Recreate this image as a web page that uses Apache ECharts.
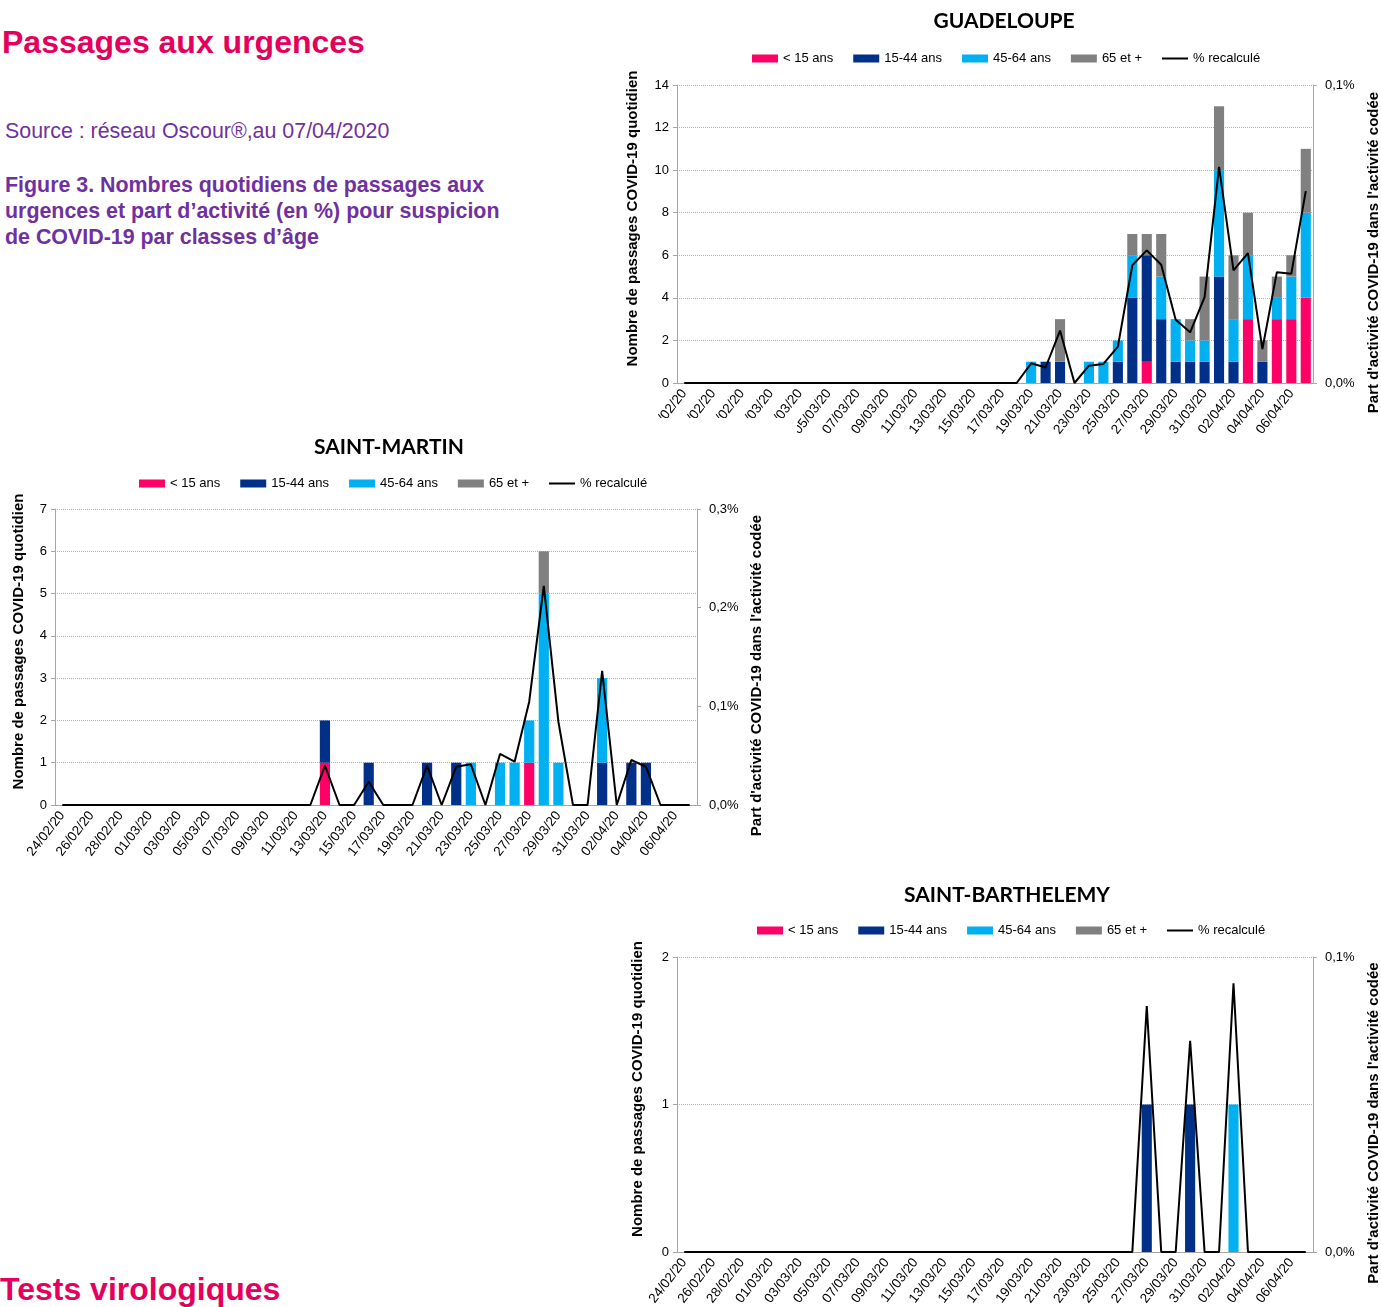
<!DOCTYPE html>
<html lang="fr">
<head>
<meta charset="utf-8">
<title>Passages aux urgences</title>
<script src="https://cdn.jsdelivr.net/npm/echarts@6.0.0/dist/echarts.min.js"></script>
<style>
  body { margin: 0; width: 1381px; height: 1307px; position: relative; overflow: hidden; background: #fff; font-family: "Liberation Sans", Arial, sans-serif; }
  .txt { position: absolute; white-space: nowrap; }
  .rose { color: #e4005c; font-weight: bold; font-size: 32px; }
  .violet { color: #7030a0; font-size: 21.4px; }
  .chart { position: absolute; }
</style>
</head>
<body>
<div class="txt rose" style="left:2px; top:24px;">Passages aux urgences</div>
<div class="txt violet" style="left:5px; top:119px;">Source : réseau Oscour®,au 07/04/2020</div>
<div class="txt violet" style="left:5px; top:172px; font-weight:bold; line-height:26px;">Figure 3. Nombres quotidiens de passages aux<br>urgences et part d’activité (en %) pour suspicion<br>de COVID-19 par classes d’âge</div>
<div class="txt rose" style="left:0px; top:1271px;">Tests virologiques</div>

<div id="gp" class="chart" style="left:600px; top:0px; width:781px; height:440px;"></div>
<div id="sm" class="chart" style="left:0px; top:418px; width:797px; height:452px; background:#fff; z-index:2;"></div>
<div id="sb" class="chart" style="left:600px; top:870px; width:781px; height:437px;"></div>

<script>
// dates du 24/02/20 au 07/04/20
const dates = [
  '24/02/20','25/02/20','26/02/20','27/02/20','28/02/20','29/02/20',
  '01/03/20','02/03/20','03/03/20','04/03/20','05/03/20','06/03/20','07/03/20','08/03/20','09/03/20','10/03/20',
  '11/03/20','12/03/20','13/03/20','14/03/20','15/03/20','16/03/20','17/03/20','18/03/20','19/03/20','20/03/20',
  '21/03/20','22/03/20','23/03/20','24/03/20','25/03/20','26/03/20','27/03/20','28/03/20','29/03/20','30/03/20',
  '31/03/20','01/04/20','02/04/20','03/04/20','04/04/20','05/04/20','06/04/20','07/04/20'
];
const classes = ['< 15 ans', '15-44 ans', '45-64 ans', '65 et +'];
const nomLigne = '% recalculé';

// Guadeloupe
const gpMoins15 = [0,0,0,0,0,0,0,0,0,0, 0,0,0,0,0,0,0,0,0,0, 0,0,0,0,0,0,0,0,0,0, 0,0,1,0,0,0,0,0,0,3, 0,3,3,4];
const gp15a44   = [0,0,0,0,0,0,0,0,0,0, 0,0,0,0,0,0,0,0,0,0, 0,0,0,0,0,1,1,0,0,0, 1,4,5,3,1,1,1,5,1,0, 1,0,0,0];
const gp45a64   = [0,0,0,0,0,0,0,0,0,0, 0,0,0,0,0,0,0,0,0,0, 0,0,0,0,1,0,0,0,1,1, 1,2,0,2,2,1,1,5,2,3, 0,1,2,4];
const gp65plus  = [0,0,0,0,0,0,0,0,0,0, 0,0,0,0,0,0,0,0,0,0, 0,0,0,0,0,0,2,0,0,0, 0,1,1,2,0,1,3,3,3,2, 1,1,1,3];
const gpPart    = [0,0,0,0,0,0,0,0,0,0, 0,0,0,0,0,0,0,0,0,0, 0,0,0,0,0.0066,0.0052,0.0176,0,0.0058,0.0064,
                   0.0122,0.0395,0.0445,0.0397,0.0212,0.017,0.0288,0.0725,0.0378,0.0436, 0.0114,0.0372,0.0367,0.0644];

// Saint-Martin
const smMoins15 = [0,0,0,0,0,0,0,0,0,0, 0,0,0,0,0,0,0,0,1,0, 0,0,0,0,0,0,0,0,0,0, 0,0,1,0,0,0,0,0,0,0, 0,0,0,0];
const sm15a44   = [0,0,0,0,0,0,0,0,0,0, 0,0,0,0,0,0,0,0,1,0, 0,1,0,0,0,1,0,1,0,0, 0,0,0,0,0,0,0,1,0,1, 1,0,0,0];
const sm45a64   = [0,0,0,0,0,0,0,0,0,0, 0,0,0,0,0,0,0,0,0,0, 0,0,0,0,0,0,0,0,1,0, 1,1,1,5,1,0,0,2,0,0, 0,0,0,0];
const sm65plus  = [0,0,0,0,0,0,0,0,0,0, 0,0,0,0,0,0,0,0,0,0, 0,0,0,0,0,0,0,0,0,0, 0,0,0,1,0,0,0,0,0,0, 0,0,0,0];
const smPart    = [0,0,0,0,0,0,0,0,0,0, 0,0,0,0,0,0,0,0,0.04,0, 0,0.0236,0,0,0,0.04,0,0.0388,0.0412,0,
                   0.0517,0.0439,0.1047,0.222,0.0844,0,0,0.136,0,0.0456, 0.0388,0,0,0];

// Saint-Barthélemy
const sbMoins15 = [0,0,0,0,0,0,0,0,0,0, 0,0,0,0,0,0,0,0,0,0, 0,0,0,0,0,0,0,0,0,0, 0,0,0,0,0,0,0,0,0,0, 0,0,0,0];
const sb15a44   = [0,0,0,0,0,0,0,0,0,0, 0,0,0,0,0,0,0,0,0,0, 0,0,0,0,0,0,0,0,0,0, 0,0,1,0,0,1,0,0,0,0, 0,0,0,0];
const sb45a64   = [0,0,0,0,0,0,0,0,0,0, 0,0,0,0,0,0,0,0,0,0, 0,0,0,0,0,0,0,0,0,0, 0,0,0,0,0,0,0,0,1,0, 0,0,0,0];
const sb65plus  = [0,0,0,0,0,0,0,0,0,0, 0,0,0,0,0,0,0,0,0,0, 0,0,0,0,0,0,0,0,0,0, 0,0,0,0,0,0,0,0,0,0, 0,0,0,0];
const sbPart    = [0,0,0,0,0,0,0,0,0,0, 0,0,0,0,0,0,0,0,0,0, 0,0,0,0,0,0,0,0,0,0, 0,0,0.0834,0,0,0.0716,0,0,0.0911,0, 0,0,0,0];

const couleurs = ['#ff0066', '#003087', '#00b0f0', '#808080'];
const police = '"Liberation Sans", Arial, sans-serif';
const gris = '#a6a6a6';
// icône de légende : trait simple, sans point
const iconeTrait = 'path://M0,0L0.01,0L0.01,0.01ZM0,3L26,3L26,5L0,5ZM25.99,8L26,8L26,7.99Z';

function dessiner(id, c) {
  const chart = echarts.init(document.getElementById(id));
  const barres = c.series.map((d, i) => ({
    name: classes[i],
    type: 'bar',
    stack: 'age',
    data: d,
    barCategoryGap: '30%',
    itemStyle: { color: couleurs[i] }
  }));
  const nomStyle = { fontFamily: police, fontWeight: 'bold', fontSize: 15, color: '#000' };
  chart.setOption({
    animation: false,
    title: {
      text: c.titre, left: c.titreX, top: c.titreY, textAlign: 'center',
      textStyle: { fontFamily: 'Lato', fontWeight: 'bold', fontSize: 21, color: '#000' }
    },
    legend: {
      left: c.legX, top: c.legY, itemWidth: 26, itemHeight: 8, itemGap: 20,
      textStyle: { fontFamily: police, fontSize: 13, color: '#000' },
      data: classes.map(n => ({ name: n, icon: 'rect' })).concat([{ name: nomLigne, icon: iconeTrait }])
    },
    grid: { left: c.grille[0], top: c.grille[1], width: c.grille[2], height: c.grille[3], outerBoundsMode: 'none' },
    xAxis: {
      type: 'category',
      data: dates,
      axisLine: { lineStyle: { color: gris } },
      axisTick: { interval: 0, length: 4, lineStyle: { color: gris } },
      axisLabel: { interval: 1, rotate: 52, fontFamily: police, fontSize: 13.5, color: '#000', margin: 8 }
    },
    yAxis: [
      {
        type: 'value', min: 0, max: c.max, interval: c.pas,
        name: 'Nombre de passages COVID-19 quotidien',
        nameLocation: 'middle', nameRotate: 90, nameGap: c.nomGauche,
        nameTextStyle: Object.assign({ padding: [0, 0, 0, 31] }, nomStyle),
        axisLine: { show: true, lineStyle: { color: gris } },
        axisTick: { show: true, length: 4, lineStyle: { color: gris } },
        axisLabel: { fontFamily: police, fontSize: 13, color: '#000', margin: 8 },
        splitLine: { lineStyle: { color: '#b0b0b0', type: 'dotted' } }
      },
      {
        type: 'value', min: 0, max: c.maxPct, interval: 0.1, position: 'right',
        name: "Part d'activité COVID-19 dans l'activité codée",
        nameLocation: 'middle', nameRotate: 90, nameGap: c.nomDroite,
        nameTextStyle: Object.assign({ padding: [0, 37, 0, 0] }, nomStyle),
        axisLine: { show: true, lineStyle: { color: gris } },
        axisTick: { show: true, length: 4, lineStyle: { color: gris } },
        axisLabel: {
          fontFamily: police, fontSize: 13, color: '#000', margin: 12,
          formatter: v => v.toFixed(1).replace('.', ',') + '%'
        },
        splitLine: { show: false }
      }
    ],
    series: barres.concat([{
      name: nomLigne,
      type: 'line',
      yAxisIndex: 1,
      data: c.part,
      symbol: 'none',
      z: 5,
      lineStyle: { color: '#000', width: 2 },
      itemStyle: { color: '#000' }
    }])
  });
}

dessiner('gp', {
  titre: 'GUADELOUPE', titreX: 399, titreY: 6,
  legX: 147, legY: 47,
  grille: [77, 85, 636, 298],
  max: 14, pas: 2, maxPct: 0.1, nomGauche: 37, nomDroite: 53,
  series: [gpMoins15, gp15a44, gp45a64, gp65plus], part: gpPart
});
dessiner('sm', {
  titre: 'SAINT-MARTIN', titreX: 384, titreY: 14,
  legX: 134, legY: 54,
  grille: [55, 91, 642, 296],
  max: 7, pas: 1, maxPct: 0.3, nomGauche: 29, nomDroite: 51,
  series: [smMoins15, sm15a44, sm45a64, sm65plus], part: smPart
});
dessiner('sb', {
  titre: 'SAINT-BARTHELEMY', titreX: 402, titreY: 10,
  legX: 152, legY: 49,
  grille: [77, 87, 636, 295],
  max: 2, pas: 1, maxPct: 0.1, nomGauche: 32, nomDroite: 53,
  series: [sbMoins15, sb15a44, sb45a64, sb65plus], part: sbPart
});
</script>
</body>
</html>
